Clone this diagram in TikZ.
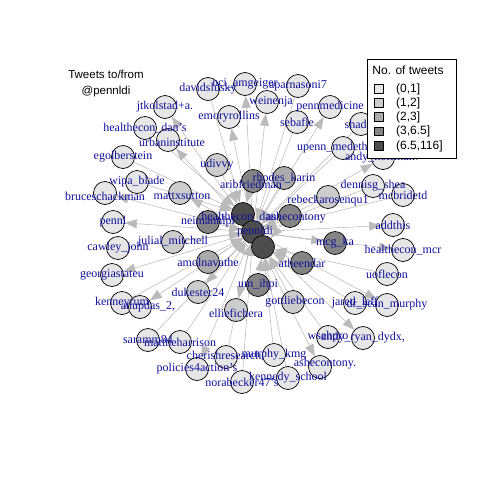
\documentclass[tikz,border=0pt]{standalone}
\usepackage{fontspec}
\setmainfont{Liberation Serif}
\newfontfamily\lsans{Liberation Sans}
\usetikzlibrary{arrows.meta}
\definecolor{labblue}{HTML}{10109A}
\definecolor{edgegray}{HTML}{BABABA}
\definecolor{gA}{HTML}{E6E6E6}
\definecolor{gB}{HTML}{CCCCCC}
\definecolor{gC}{HTML}{ABABAB}
\definecolor{gD}{HTML}{858585}
\definecolor{gE}{HTML}{4D4D4D}
\pgfdeclarelayer{bg}
\pgfsetlayers{bg,main}
\newcommand\vv[4]{\node[vtx,fill=#4] (#1) at (#2,#3) {};}
\newcommand\lb[2]{\node[lbl] (#1-l) at (#1) {#2};}
\newcommand\lbs[4]{\node[lbl] (#1-l) at ([xshift=#3pt,yshift=#4pt]#1) {#2};}
\begin{document}
\begin{tikzpicture}[x=1pt,y=-1pt,
  vtx/.style={circle,draw=black,line width=0.7pt,minimum size=23pt,inner sep=0pt},
  lbl/.style={text=labblue,font=\fontsize{12}{12}\selectfont,inner sep=0pt},
  edge/.style={draw=edgegray,line width=0.55pt,-{Triangle[length=12pt,width=9pt]}},
  legsq/.style={draw=black,line width=0.6pt,minimum size=8.5pt,inner sep=0pt}]
\useasboundingbox (0,0) rectangle (480,480);
% vertices
\vv{hcdans}{145}{128}{gA}
\vv{urban}{168}{140}{gA}
\vv{jtk}{165}{107}{gA}
\vv{ego}{123}{157}{gA}
\vv{davids}{208}{89}{gA}
\vv{nci}{245}{84}{gA}
\vv{weinen}{267}{102}{gA}
\vv{emory}{229}{117}{gA}
\vv{aparna}{298}{86}{gA}
\vv{sebafle}{297}{122}{gA}
\vv{pennmed}{330}{107}{gA}
\vv{shad}{361}{124}{gA}
\vv{upenn}{343}{148}{gA}
\vv{andy}{383}{158}{gA}
\vv{udivvy}{217}{165}{gB}
\vv{wipa}{137}{182}{gA}
\vv{bruce}{105}{193}{gA}
\vv{mattx}{180}{193}{gB}
\vv{pennl}{113}{222}{gA}
\vv{neimann}{208}{222}{gD}
\vv{julial}{173}{242}{gB}
\vv{cawley}{118}{248}{gA}
\vv{amol}{208}{262}{gC}
\vv{georgia}{112}{275}{gA}
\vv{kenney}{122}{303}{gA}
\vv{anup}{140}{307}{gA}
\vv{duke}{198}{292}{gB}
\vv{ellie}{236}{310}{gB}
\vv{sara}{148}{340}{gA}
\vv{matth}{180}{342}{gA}
\vv{policies}{197}{369}{gA}
\vv{cherish}{226}{357}{gA}
\vv{nora}{242}{382}{gA}
\vv{murphy}{274}{355}{gA}
\vv{kennedy}{288}{378}{gA}
\vv{ashetwo}{320}{367}{gA}
\vv{wseh}{328}{337}{gA}
\vv{andyr}{363}{338}{gA}
\vv{umihpi}{258}{285}{gD}
\vv{gottlieb}{293}{302}{gB}
\vv{jared}{355}{303}{gA}
\vv{drsean}{387}{305}{gA}
\vv{uofl}{387}{274}{gA}
\vv{hcmcr}{403}{250}{gA}
\vv{addthis}{393}{225}{gA}
\vv{mcg}{335}{243}{gD}
\vv{athe}{302}{263}{gD}
\vv{mcbride}{403}{195}{gA}
\vv{dennis}{373}{186}{gA}
\vv{rebecka}{328}{197}{gB}
\vv{ashe}{290}{216}{gD}
\vv{rhodes}{284}{178}{gC}
\vv{arib}{253}{181}{gD}
\vv{hcdan}{243}{214}{gE}
\vv{pennldi}{253}{232}{gE}
\vv{cthree}{263}{247}{gE}
% edges
\begin{pgfonlayer}{bg}
\foreach \t in {jtk,urban,emory,nci,weinen,pennmed,andy,bruce,pennl,georgia,anup,policies,ashetwo,andyr,drsean,hcmcr,addthis,mcg,ellie,mattx,duke}
  \draw[edge] (pennldi) -- (\t);
\foreach \s in {hcdans,ego,davids,wipa,udivvy,arib}
  \draw[edge] (\s) -- (hcdan);
\foreach \s in {aparna,sebafle,shad,upenn,cawley,kenney,sara,matth,cherish,nora,neimann,julial,amol,rhodes,rebecka,dennis,mcbride,hcdan,cthree}
  \draw[edge] (\s) -- (pennldi);
\foreach \s in {murphy,kennedy,wseh,jared,uofl,umihpi,gottlieb,athe,ashe}
  \draw[edge] (\s) -- (cthree);
\end{pgfonlayer}
% labels
\lb{hcdans}{healthecon\_dan's}
\lbs{urban}{urbaninstitute}{4}{-2}
\lb{jtk}{jtkolstad+a.}
\lb{ego}{egolberstein}
\lb{davids}{davidslusky}
\lb{nci}{nci\_amgeiger}
\lbs{weinen}{weinenja}{4}{0}
\lb{emory}{emoryrollins}
\lb{aparna}{aparnasoni7}
\lb{sebafle}{sebafle}
\lb{pennmed}{pennmedicine}
\lb{shad}{shadac}
\lbs{upenn}{upenn\_medethics}{-4}{0}
\lb{andy}{andy\_hoffman7}
\lb{udivvy}{udivvy}
\lb{wipa}{wipa\_blade}
\lbs{bruce}{bruceschackman}{0}{-3}
\lbs{mattx}{mattxsutton}{2}{-3}
\lb{pennl}{pennl}
\lb{neimann}{neimannlpi}
\lb{julial}{julial\_mitchell}
\lb{cawley}{cawley\_john}
\lb{amol}{amolnavathe}
\lb{georgia}{georgiastateu}
\lb{kenney}{kenneyrum}
\lbs{anup}{anupdas\_2,}{8}{0}
\lb{duke}{dukester24}
\lbs{ellie}{elliefichera}{0}{-3}
\lb{sara}{saramm84}
\lb{matth}{mattheharrison}
\lb{policies}{policies4action's}
\lbs{cherish}{cherishresearch}{-2}{2}
\lb{nora}{norabecker47's}
\lb{murphy}{murphy\_kmg}
\lb{kennedy}{kennedy\_school}
\lbs{ashetwo}{ashecontony.}{5}{3}
\lb{wseh}{wsehpro}
\lb{andyr}{andy\_ryan\_dydx,}
\lb{umihpi}{um\_ihpi}
\lbs{gottlieb}{gottliebecon}{2}{0}
\lb{jared}{jared\_leff}
\lb{drsean}{dr\_sean\_murphy}
\lb{uofl}{uoflecon}
\lb{hcmcr}{healthecon\_mcr}
\lb{addthis}{addthis}
\lb{mcg}{mcg\_ka}
\lb{athe}{atheendar}
\lb{mcbride}{mcbridetd}
\lb{dennis}{dennisg\_shea}
\lbs{rebecka}{rebeckarosenqu1}{0}{-4}
\lbs{ashe}{ashecontony}{6}{-2}
\lb{rhodes}{rhodes\_karin}
\lbs{arib}{aribfriedman}{-2}{-3}
\lbs{hcdan}{healthecon\_dan}{-4}{-3}
\lbs{pennldi}{pennldi}{2}{0}
% title
\node[font=\lsans\fontsize{11.5}{16}\selectfont,align=center] (title) at (106,84) {Tweets to/from\\@pennldi};
% legend
\node[draw=black,fill=white,line width=0.6pt,minimum width=89pt,minimum height=99pt,inner sep=0pt] (legbox) at (411.5,108.5) {};
\node[font=\lsans\fontsize{12}{12}\selectfont] (legtitle) at (408,70) {No. of tweets};
\node[legsq,fill=gA] (sq1) at (379,89) {};
\node[legsq,fill=gB] (sq2) at (379,103) {};
\node[legsq,fill=gC] (sq3) at (379,117) {};
\node[legsq,fill=gD] (sq4) at (379,131.5) {};
\node[legsq,fill=gE] (sq5) at (379,146) {};
\begin{scope}[every node/.style={font=\lsans\fontsize{12}{12}\selectfont,anchor=west,inner sep=0pt}]
\node (t1) at (396,89) {(0,1]};
\node (t2) at (396,103) {(1,2]};
\node (t3) at (396,117) {(2,3]};
\node (t4) at (396,131.5) {(3,6.5]};
\node (t5) at (396,146) {(6.5,116]};
\end{scope}
\end{tikzpicture}
\end{document}
